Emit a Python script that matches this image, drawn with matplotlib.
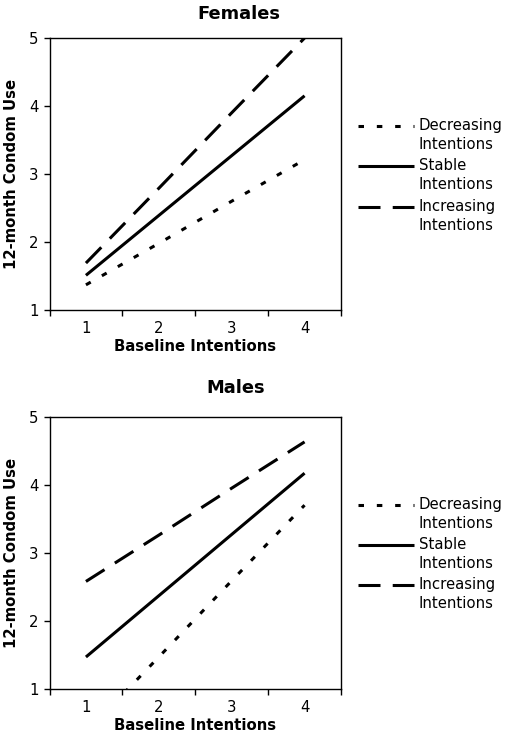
import matplotlib
matplotlib.use("Agg")
import matplotlib.pyplot as plt
from matplotlib.lines import Line2D

# Data
categories = [1, 2, 3, 4]
female_decreasing = [1.37, 1.98, 2.60, 3.21]
female_stable = [1.51, 2.39, 3.27, 4.15]
female_increasing = [1.69, 2.79, 3.90, 5.00]
male_decreasing = [0.36, 1.47, 2.59, 3.70]
male_stable = [1.47, 2.37, 3.27, 4.17]
male_increasing = [2.58, 3.26, 3.95, 4.63]
series_labels = ["Decreasing\nIntentions", "Stable\nIntentions", "Increasing\nIntentions"]
panel_titles = ["Females", "Males"]
y_ticks = [1, 2, 3, 4, 5]

W, H = 508, 741
plt.rcParams['font.family'] = ['DejaVu Sans']
fig = plt.figure(figsize=(W / 100, H / 100), dpi=100)

LW = 2.2
FS = 10.7
styles = [
    dict(linestyle=(0, (1.8, 4.2)), linewidth=LW, color='black'),
    dict(linestyle='-', linewidth=LW, color='black'),
    dict(linestyle=(0, (7.2, 4.0)), linewidth=LW, color='black'),
]

def fx(px):
    return px / W

def fy(py):
    return 1 - py / H

panels = [
    dict(top=38, bottom=310, title_y=14, title_x=239, leg_y=[126, 166, 207],
         data=[female_decreasing, female_stable, female_increasing], title=panel_titles[0]),
    dict(top=416.7, bottom=689, title_y=388, title_x=236, leg_y=[505, 545, 585],
         data=[male_decreasing, male_stable, male_increasing], title=panel_titles[1]),
]

left, right = 49.5, 341
for p in panels:
    ax = fig.add_axes([fx(left), fy(p['bottom']), (right - left) / W, (p['bottom'] - p['top']) / H])
    for vals, st in zip(p['data'], styles):
        ax.plot(categories, vals, solid_capstyle='butt', dash_capstyle='butt', **st)
    ax.set_xlim(0.5, 4.5)
    ax.set_ylim(1, 5)
    ax.set_xticks([0.5, 1.5, 2.5, 3.5, 4.5])
    ax.set_xticklabels([])
    ax.set_xticks(categories, minor=True)
    ax.set_xticklabels([str(c) for c in categories], minor=True)
    ax.tick_params(axis='x', which='major', direction='out', length=4, width=1)
    ax.tick_params(axis='x', which='minor', length=0, pad=8, labelsize=FS)
    ax.set_yticks(y_ticks)
    ax.tick_params(axis='y', direction='out', length=4, width=1, pad=4, labelsize=FS)
    for s in ax.spines.values():
        s.set_linewidth(1)
        s.set_color('black')
    ax.set_xlabel("Baseline Intentions", fontsize=FS, fontweight='bold', labelpad=2)
    ax.set_ylabel("12-month Condom Use", fontsize=FS, fontweight='bold', labelpad=7)
    fig.text(fx(p['title_x']), fy(p['title_y']), p['title'], ha='center', va='center',
             fontsize=12.9, fontweight='bold')
    # legend
    for ly, st, lab in zip(p['leg_y'], styles, series_labels):
        fig.add_artist(Line2D([fx(358), fx(414)], [fy(ly), fy(ly)], transform=fig.transFigure,
                              solid_capstyle='butt', dash_capstyle='butt', **st))
        fig.text(fx(419), fy(ly - 8), lab, ha='left', va='top', fontsize=FS, linespacing=1.3)

fig.savefig("out.png", dpi=100)
